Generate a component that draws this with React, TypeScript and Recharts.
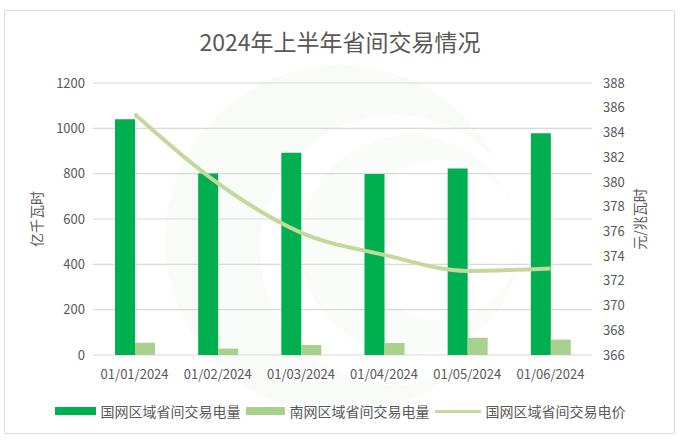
import { ComposedChart, Bar, Line, XAxis, YAxis, CartesianGrid, Label } from "recharts";

const months = ["01/01/2024", "01/02/2024", "01/03/2024", "01/04/2024", "01/05/2024", "01/06/2024"];
const stateGridVolume = [1040, 801, 892, 798, 823, 978];
const southGridVolume = [54, 28, 44, 53, 76, 68];
const stateGridPrice = [385.5, 379.9, 375.9, 374.1, 372.8, 373.0];

const volumeTicks = [0, 200, 400, 600, 800, 1000, 1200];
const priceTicks = [366, 368, 370, 372, 374, 376, 378, 380, 382, 384, 386, 388];
const boundaryTicks = [0, 1, 2, 3, 4, 5, 6];

const FONT = '"Noto Sans CJK SC", "Noto Sans", sans-serif';
const TEXT = "#595959";
const DARK = "#00b050";
const LIGHT = "#a9d18e";
const LINE = "#c4d89c";

const data = months.map((m, i) => ({
  month: m,
  stateVol: stateGridVolume[i],
  southVol: southGridVolume[i],
  price: stateGridPrice[i],
}));

function LegendRow() {
  const item = (swatch: React.ReactNode, text: string) => (
    <div style={{ display: "flex", alignItems: "center", gap: 5 }}>
      {swatch}
      <span>{text}</span>
    </div>
  );
  return (
    <div
      style={{
        position: "absolute",
        left: 0,
        top: 401,
        width: 680,
        display: "flex",
        justifyContent: "center",
        gap: 5,
        fontFamily: FONT,
        fontSize: 14,
        color: TEXT,
      }}
    >
      {item(<div style={{ width: 41, height: 8, background: DARK }} />, "国网区域省间交易电量")}
      {item(<div style={{ width: 39, height: 8, background: LIGHT }} />, "南网区域省间交易电量")}
      {item(<div style={{ width: 46, height: 3, background: LINE }} />, "国网区域省间交易电价")}
    </div>
  );
}

export default function App() {
  return (
    <div style={{ position: "absolute", left: 0, top: 0, width: 680, height: 443, background: "#fff" }}>
      <div
        style={{
          position: "absolute",
          left: 4,
          top: 10,
          width: 669,
          height: 422,
          border: "1px solid #d9d9d9",
          borderRadius: 2,
        }}
      />
      {/* faint watermark behind the plot */}
      <svg width={680} height={443} style={{ position: "absolute", left: 0, top: 0 }}>
        <circle cx={340} cy={240} r={175} fill="#f8fbf8" />
        <circle cx={395} cy={250} r={135} fill="#ffffff" />
        <circle cx={410} cy={245} r={110} fill="#f9fcf9" />
        <circle cx={440} cy={240} r={80} fill="#ffffff" />
      </svg>
      <div
        style={{
          position: "absolute",
          left: 0,
          top: 24,
          width: 680,
          textAlign: "center",
          fontFamily: FONT,
          fontSize: 23,
          color: TEXT,
        }}
      >
        2024年上半年省间交易情况
      </div>
      <div style={{ position: "absolute", left: 0, top: 0 }}>
        <ComposedChart
          width={680}
          height={443}
          data={data}
          margin={{ top: 83, right: 20, bottom: 58, left: 20 }}
          barSize={20}
          barGap={0}
          style={{ fontFamily: FONT }}
        >
          <CartesianGrid yAxisId="left" xAxisId="cat" vertical={false} stroke="#d9d9d9" strokeWidth={1.2} />
          <XAxis
            xAxisId="grid"
            type="number"
            domain={[0, 6]}
            ticks={boundaryTicks}
            height={0}
            tick={() => <g />}
            axisLine={{ stroke: "#bfbfbf" }}
            tickLine={{ stroke: "#bfbfbf" }}
            tickSize={5}
          />
          <XAxis
            xAxisId="cat"
            dataKey="month"
            height={30}
            axisLine={false}
            tickLine={false}
            tickMargin={9}
            interval={0}
            tick={{ fill: TEXT, fontSize: 13 }}
          />
          <YAxis
            yAxisId="left"
            width={73}
            domain={[0, 1200]}
            ticks={volumeTicks}
            axisLine={false}
            tickLine={false}
            tick={{ fill: TEXT, fontSize: 13 }}
          >
            <Label
              value="亿千瓦时"
              angle={-90}
              position="insideLeft"
              offset={17}
              style={{ fill: TEXT, fontSize: 14, textAnchor: "middle" }}
            />
          </YAxis>
          <YAxis
            yAxisId="right"
            orientation="right"
            width={68}
            domain={[366, 388]}
            ticks={priceTicks}
            interval={0}
            axisLine={false}
            tickLine={false}
            tickMargin={5}
            tick={{ fill: TEXT, fontSize: 13 }}
          >
            <Label
              value="元/兆瓦时"
              angle={-90}
              position="insideRight"
              offset={20}
              style={{ fill: TEXT, fontSize: 14, textAnchor: "middle" }}
            />
          </YAxis>
          <Bar xAxisId="cat" yAxisId="left" dataKey="stateVol" fill={DARK} isAnimationActive={false} />
          <Bar xAxisId="cat" yAxisId="left" dataKey="southVol" fill={LIGHT} isAnimationActive={false} />
          <Line
            xAxisId="cat"
            yAxisId="right"
            dataKey="price"
            type="monotone"
            stroke={LINE}
            strokeWidth={4}
            dot={false}
            activeDot={false}
            isAnimationActive={false}
          />
        </ComposedChart>
      </div>
      <LegendRow />
    </div>
  );
}
